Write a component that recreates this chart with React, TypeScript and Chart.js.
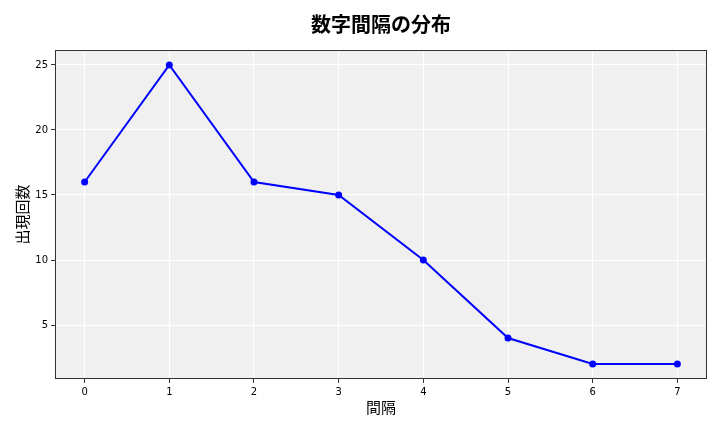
import { Chart, registerables } from 'chart.js';
import { useEffect, useRef } from 'react';

Chart.register(...registerables);

const intervals = [0, 1, 2, 3, 4, 5, 6, 7];
const counts = [16, 25, 16, 15, 10, 4, 2, 2];
const yTicks = [5, 10, 15, 20, 25];
const titleText = '数字間隔の分布';

const cjk = '"Noto Sans CJK JP", "DejaVu Sans", sans-serif';
const tickFont = { family: '"DejaVu Sans", sans-serif', size: 10 };

// grey plot background, frame round the chart area, title centred over the plot
const framePlugin = {
  id: 'frame',
  beforeDraw(chart: Chart) {
    const { ctx, chartArea: a } = chart;
    ctx.save();
    ctx.fillStyle = '#f0f0f0';
    ctx.fillRect(a.left, a.top, a.right - a.left, a.bottom - a.top);
    ctx.restore();
  },
  afterDraw(chart: Chart) {
    const { ctx, chartArea: a } = chart;
    ctx.save();
    ctx.strokeStyle = '#333333';
    ctx.lineWidth = 1;
    ctx.strokeRect(a.left + 0.5, a.top + 0.5, a.right - a.left - 1, a.bottom - a.top - 1);
    ctx.fillStyle = '#000';
    ctx.font = `bold 20px ${cjk}`;
    ctx.textAlign = 'center';
    ctx.textBaseline = 'middle';
    ctx.fillText(titleText, (a.left + a.right) / 2, 24);
    ctx.restore();
  },
};

const App: React.FC = () => {
  const chartRef = useRef<HTMLCanvasElement>(null);
  const chartInstanceRef = useRef<Chart | null>(null);

  useEffect(() => {
    document.body.style.margin = '0';
    const ctx = chartRef.current?.getContext('2d');

    if (ctx && chartInstanceRef.current === null) {
      chartInstanceRef.current = new Chart(ctx, {
        type: 'line',
        data: {
          datasets: [{
            data: intervals.map((x, i) => ({ x, y: counts[i] })),
            borderColor: '#0000ff',
            backgroundColor: '#0000ff',
            borderWidth: 2,
            pointRadius: 3.5,
            pointBorderWidth: 0,
            pointHoverRadius: 3.5,
            fill: false,
            tension: 0,
          }],
        },
        options: {
          responsive: false,
          animation: false,
          layout: { padding: { top: 50, right: 13, left: 0, bottom: 0 } },
          plugins: {
            legend: { display: false },
            tooltip: { enabled: false },
            title: { display: false },
          },
          scales: {
            x: {
              type: 'linear',
              min: -0.35,
              max: 7.35,
              afterBuildTicks: (scale: any) => {
                scale.ticks = intervals.map((v) => ({ value: v }));
              },
              afterFit: (scale: any) => { scale.height = 53; },
              grid: { color: '#ffffff', tickColor: '#333333', tickLength: 4, lineWidth: 1 },
              border: { display: false },
              ticks: { color: '#000', font: tickFont, padding: 3, callback: (v: any) => String(v) },
              title: {
                display: true,
                text: '間隔',
                color: '#000',
                font: { family: cjk, size: 15 },
                padding: { top: 0, bottom: 16 },
              },
            },
            y: {
              type: 'linear',
              min: 0.85,
              max: 26.15,
              afterBuildTicks: (scale: any) => {
                scale.ticks = yTicks.map((v) => ({ value: v }));
              },
              afterFit: (scale: any) => { scale.width = 55; },
              grid: { color: '#ffffff', tickColor: '#333333', tickLength: 4, lineWidth: 1 },
              border: { display: false },
              ticks: { color: '#000', font: tickFont, padding: 3, callback: (v: any) => String(v) },
              title: {
                display: true,
                text: '出現回数',
                color: '#000',
                font: { family: cjk, size: 15 },
                padding: { top: 13, bottom: 0 },
              },
            },
          },
        },
        plugins: [framePlugin],
      });
    }

    return () => {
      if (chartInstanceRef.current) {
        chartInstanceRef.current.destroy();
        chartInstanceRef.current = null;
      }
    };
  }, []);

  return <canvas ref={chartRef} width={720} height={432} style={{ display: 'block' }} />;
};

export default App;
